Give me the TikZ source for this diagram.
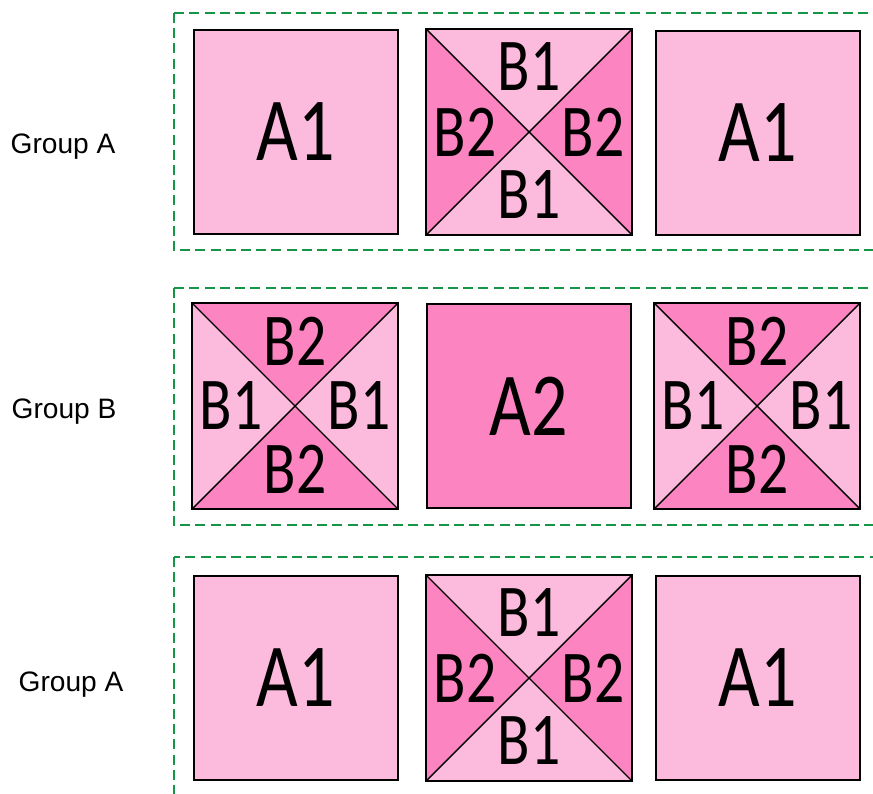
\documentclass[tikz,border=0pt]{standalone}
\usepackage{fontspec}
\setmainfont{Liberation Sans}
\newfontfamily\tilefont{Carlito}
\definecolor{lightpink}{RGB}{252,186,220}
\definecolor{darkpink}{RGB}{252,132,192}
\definecolor{groupgreen}{RGB}{20,150,70}

\begin{document}
\begin{tikzpicture}[x=0.025cm,y=-0.025cm,
    tile/.style={draw=black,line width=1.4pt,minimum size=5.08cm,inner sep=0pt},
    tiletext/.style={font=\tilefont\fontsize{64}{66}\selectfont},
    parttext/.style={font=\tilefont\fontsize{53}{55}\selectfont,inner sep=0pt},
    grouplabel/.style={font=\fontsize{20}{24}\selectfont},
    groupframe/.style={draw=groupgreen,line width=2.1pt,dash pattern=on 0.25cm off 0.13cm}]
  \useasboundingbox (0,0) rectangle (873,794);
  \begin{scope}
    \clip (0,0) rectangle (873,794);
    % frames
    \draw[groupframe] (174,13) rectangle (900,250);
    \draw[groupframe] (174,288) rectangle (900,525);
    \draw[groupframe] (174,557) rectangle (900,830);
    % plain tiles
    \node[tile,fill=lightpink,tiletext] (aTopL) at (296,132) {\scalebox{0.8}[1]{A1}};
    \node[tile,fill=lightpink,tiletext] (aTopR) at (758,133) {\scalebox{0.8}[1]{A1}};
    \node[tile,fill=darkpink,tiletext] (bMid) at (529,406) {\scalebox{0.8}[1]{A2}};
    \node[tile,fill=lightpink,tiletext] (aBotL) at (296,678) {\scalebox{0.8}[1]{A1}};
    \node[tile,fill=lightpink,tiletext] (aBotR) at (758,678) {\scalebox{0.8}[1]{A1}};
    % crossed tiles
    \foreach \n/\x/\y/\tbcol/\lrcol/\tblab/\lrlab in {
        cTop/529/132/lightpink/darkpink/B1/B2,
        cMidL/295/406/darkpink/lightpink/B2/B1,
        cMidR/757/406/darkpink/lightpink/B2/B1,
        cBot/529/678/lightpink/darkpink/B1/B2}{
      \path node[tile,draw=none] (\n) at (\x,\y) {};
      \fill[\tbcol] (\n.north west) -- (\n.north east) -- (\n.center) -- cycle;
      \fill[\tbcol] (\n.south west) -- (\n.south east) -- (\n.center) -- cycle;
      \fill[\lrcol] (\n.north west) -- (\n.south west) -- (\n.center) -- cycle;
      \fill[\lrcol] (\n.north east) -- (\n.south east) -- (\n.center) -- cycle;
      \draw[line width=1pt] (\n.north west) -- (\n.south east);
      \draw[line width=1pt] (\n.north east) -- (\n.south west);
      \draw[line width=1.4pt] (\n.north west) rectangle (\n.south east);
      \node[parttext] (\n-t) at (\x,{\y-65}) {\scalebox{0.8}[1]{\tblab}};
      \node[parttext] (\n-b) at (\x,{\y+63}) {\scalebox{0.8}[1]{\tblab}};
      \node[parttext] (\n-l) at ({\x-64},\y) {\scalebox{0.8}[1]{\lrlab}};
      \node[parttext] (\n-r) at ({\x+64},\y) {\scalebox{0.8}[1]{\lrlab}};
    }
  \end{scope}
  % labels
  \node[grouplabel] (labA) at (63,147) {Group A};
  \node[grouplabel] (labB) at (64,412) {Group B};
  \node[grouplabel] (labC) at (71,685) {Group A};
\end{tikzpicture}
\end{document}
